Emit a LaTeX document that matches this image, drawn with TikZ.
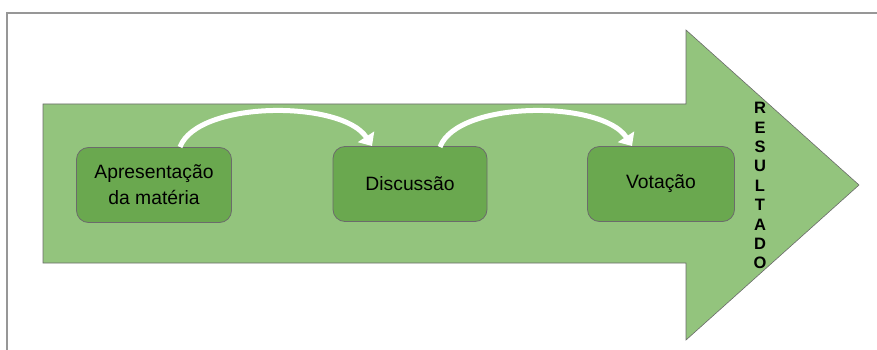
\documentclass[tikz,border=0pt]{standalone}
\usepackage{fontspec}
\setmainfont{Liberation Sans}
\usetikzlibrary{arrows.meta}
\definecolor{arrowgreen}{HTML}{93C47D}
\definecolor{boxgreen}{HTML}{6AA84F}
\definecolor{edgegray}{HTML}{6B6B6B}
\tikzset{
  stepbox/.style={draw=edgegray, line width=0.8pt, fill=boxgreen, rounded corners=12pt,
    minimum width=155pt, minimum height=75pt, align=center, font=\fontsize{19.3}{26}\selectfont},
  curvearrow/.style={draw=white, line width=5pt, -{Triangle[width=19pt,length=11pt]}},
  letter/.style={font=\bfseries\fontsize{16.5}{16.5}\selectfont, inner sep=0pt}
}
\begin{document}
\begin{tikzpicture}[x=1pt,y=-1pt]
\useasboundingbox (0,0) rectangle (877,350);
% frame
\draw[edgegray!70, line width=1.8pt] (7,350) -- (7,13) -- (877,13);
% big arrow
\draw[edgegray, line width=0.6pt, fill=arrowgreen]
  (43,104) -- (686,104) -- (686,30) -- (859,185) -- (686,340) -- (686,263) -- (43,263) -- cycle;
% boxes
\node[stepbox, minimum width=155pt] (a) at (154,185) {Apresentação\\da matéria};
\node[stepbox, minimum width=154pt] (b) at (410,184) {Discussão};
\node[stepbox, minimum width=147pt] (c) at (661,184) {Votação};
% curved arrows
\coordinate (a1) at (180,147);
\coordinate (b1) at (372,146);
\coordinate (b2) at (440,147);
\coordinate (c1) at (632,146);
\draw[curvearrow] (a1) .. controls (198,100) and (342,100) .. (b1);
\draw[curvearrow] (b2) .. controls (458,100) and (602,100) .. (c1);
% RESULTADO
\foreach \ch [count=\i] in {R,E,S,U,L,T,A,D,O} {
  \node[letter] (r\i) at (760,{108+19.4*(\i-1)}) {\ch};
}
\end{tikzpicture}
\end{document}
